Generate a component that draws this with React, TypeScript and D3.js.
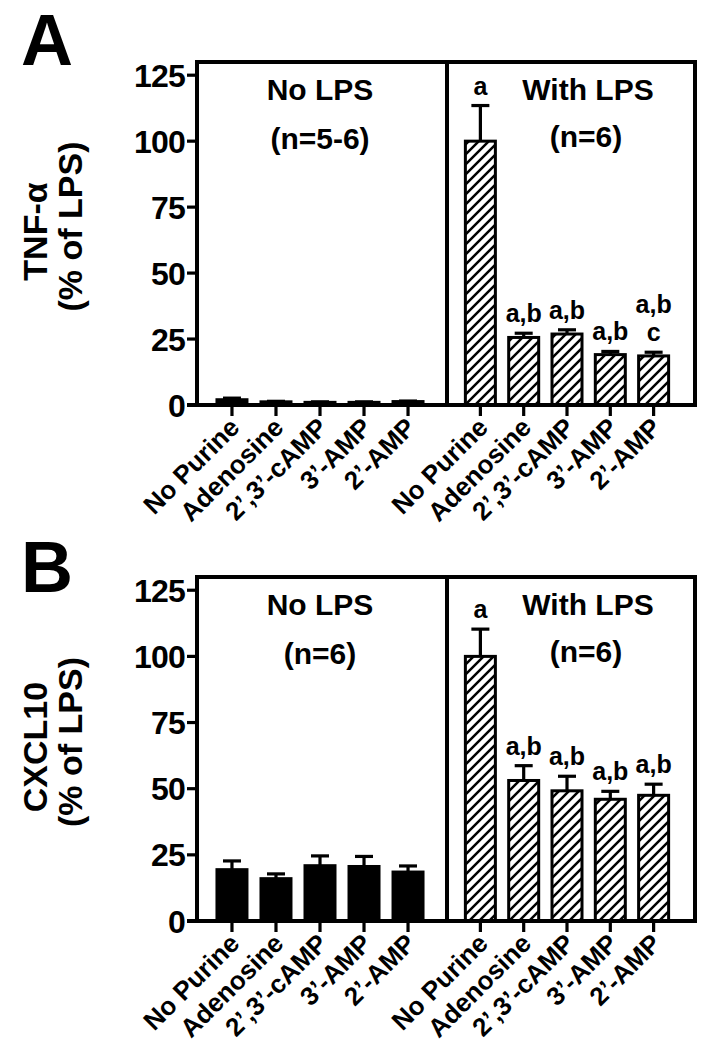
import React from "react";
import * as d3 from "d3";

const categories = ["No Purine", "Adenosine", "2\u2019,3\u2019-cAMP", "3\u2019-AMP", "2\u2019-AMP"];
const yTicks = [0, 25, 50, 75, 100, 125];

const tnfNoLps = [2.0, 1.2, 1.0, 1.0, 1.3];
const tnfNoLpsErr = [0.6, 0.2, 0.2, 0.2, 0.2];
const tnfLps = [100, 25.6, 26.9, 19.1, 18.6];
const tnfLpsErr = [13.5, 1.6, 1.6, 1.2, 1.4];
const tnfLetters = [["a"], ["a,b"], ["a,b"], ["a,b"], ["a,b", "c"]];

const cxclNoLps = [19.4, 16.0, 20.9, 20.6, 18.5];
const cxclNoLpsErr = [3.3, 1.8, 3.7, 3.8, 2.3];
const cxclLps = [100, 53.1, 49.2, 46.0, 47.5];
const cxclLpsErr = [10.3, 5.6, 5.5, 3.0, 4.2];
const cxclLetters = [["a"], ["a,b"], ["a,b"], ["a,b"], ["a,b"]];

const FONT = "'Liberation Sans', Arial, Helvetica, sans-serif";

type PanelProps = {
  letter: string;
  letterY: number;
  title1: string;
  title2: string;
  top: number;
  axisY: number;
  noLps: number[];
  noLpsErr: number[];
  lps: number[];
  lpsErr: number[];
  letters: string[][];
  nLeft: string;
  nRight: string;
  pid: string;
};

function Panel(p: PanelProps) {
  const axisX = 197;
  const divX = 447;
  const rightX = 695;
  const y = d3.scaleLinear().domain([0, 130]).range([p.axisY, p.top]);
  const xL = d3.scalePoint<string>().domain(categories).range([195, 445]).padding(0.84);
  const xR = d3.scalePoint<string>().domain(categories).range([444, 690]).padding(0.84);
  const bw = 30;
  const capW = 18;
  const sw = 3.2;

  const bars = (
    xs: d3.ScalePoint<string>,
    vals: number[],
    errs: number[],
    fill: string,
    letters: string[][] | null
  ) =>
    categories.map((c, i) => {
      const cx = xs(c) as number;
      const top = y(vals[i]);
      const capY = y(vals[i] + errs[i]);
      return (
        <g key={c}>
          <line x1={cx} x2={cx} y1={top} y2={capY} stroke="#000" strokeWidth={sw} />
          <line x1={cx - capW / 2} x2={cx + capW / 2} y1={capY} y2={capY} stroke="#000" strokeWidth={sw} />
          <rect
            x={cx - bw / 2}
            y={top}
            width={bw}
            height={p.axisY - top}
            fill={fill}
            stroke="#000"
            strokeWidth={3}
          />
          {letters &&
            letters[i].map((t, j) => (
              <text
                key={j}
                x={cx}
                y={capY - 11 - (letters[i].length - 1 - j) * 28}
                textAnchor="middle"
                fontSize={25}
                fontWeight="bold"
                fontFamily={FONT}
              >
                {t}
              </text>
            ))}
        </g>
      );
    });

  const midY = (p.top + p.axisY) / 2;

  return (
    <g>
      <defs>
        <pattern id={"hatch" + p.pid} patternUnits="userSpaceOnUse" width={10} height={10}>
          <rect width={10} height={10} fill="#fff" />
          <path d="M-2,12 L12,-2 M-7,7 L7,-7 M3,17 L17,3" stroke="#000" strokeWidth={2.5} />
        </pattern>
      </defs>
      <text x={21} y={p.letterY} fontSize={72} fontWeight="bold" fontFamily={FONT}>
        {p.letter}
      </text>
      {/* y title */}
      <text
        transform={`translate(47,${midY - 2}) rotate(-90)`}
        textAnchor="middle"
        fontSize={34}
        fontWeight="bold"
        fontFamily={FONT}
      >
        {p.title1}
      </text>
      <text
        transform={`translate(82,${midY - 7}) rotate(-90)`}
        textAnchor="middle"
        fontSize={34}
        fontWeight="bold"
        fontFamily={FONT}
      >
        {p.title2}
      </text>
      {/* y ticks */}
      {yTicks.map((t) => (
        <g key={t}>
          <line x1={axisX - 10} x2={axisX} y1={y(t)} y2={y(t)} stroke="#000" strokeWidth={sw} />
          <text
            x={axisX - 12}
            y={y(t) + 11.5}
            textAnchor="end"
            fontSize={32}
            fontWeight="bold"
            fontFamily={FONT}
            letterSpacing={-0.8}
          >
            {t}
          </text>
        </g>
      ))}
      {bars(xL, p.noLps, p.noLpsErr, "#000", null)}
      {bars(xR, p.lps, p.lpsErr, `url(#hatch${p.pid})`, p.letters)}
      {/* frame */}
      <rect
        x={axisX}
        y={p.top}
        width={rightX - axisX}
        height={p.axisY - p.top}
        fill="none"
        stroke="#000"
        strokeWidth={4}
      />
      <line x1={divX} x2={divX} y1={p.top} y2={p.axisY} stroke="#000" strokeWidth={4} />
      <line x1={axisX - 10} x2={rightX + 2} y1={p.axisY} y2={p.axisY} stroke="#000" strokeWidth={4} />
      {/* group labels */}
      <text x={320} y={p.top + 38} textAnchor="middle" fontSize={30} fontWeight="bold" fontFamily={FONT}>
        No LPS
      </text>
      <text x={320} y={p.top + 87} textAnchor="middle" fontSize={30} fontWeight="bold" fontFamily={FONT}>
        {p.nLeft}
      </text>
      <text x={588} y={p.top + 38} textAnchor="middle" fontSize={30} fontWeight="bold" fontFamily={FONT}>
        With LPS
      </text>
      <text x={586} y={p.top + 85} textAnchor="middle" fontSize={30} fontWeight="bold" fontFamily={FONT}>
        {p.nRight}
      </text>
      {/* x ticks and labels */}
      {[xL, xR].map((xs, k) =>
        categories.map((c) => {
          const cx = xs(c) as number;
          return (
            <g key={k + c}>
              <line x1={cx} x2={cx} y1={p.axisY} y2={p.axisY + 11} stroke="#000" strokeWidth={sw} />
              <text
                transform={`translate(${cx + 9},${p.axisY + 24}) rotate(-45)`}
                textAnchor="end"
                fontSize={26}
                fontWeight="bold"
                fontFamily={FONT}
              >
                {c}
              </text>
            </g>
          );
        })
      )}
    </g>
  );
}

export default function App() {
  return (
    <svg
      width={701}
      height={1050}
      style={{ position: "absolute", left: 0, top: 0, background: "#fff" }}
    >
      <rect width={701} height={1050} fill="#fff" />
      <Panel
        pid="A"
        letter="A"
        letterY={65}
        title1="TNF-α"
        title2="(% of LPS)"
        top={62}
        axisY={405}
        noLps={tnfNoLps}
        noLpsErr={tnfNoLpsErr}
        lps={tnfLps}
        lpsErr={tnfLpsErr}
        letters={tnfLetters}
        nLeft="(n=5-6)"
        nRight="(n=6)"
      />
      <Panel
        pid="B"
        letter="B"
        letterY={592}
        title1="CXCL10"
        title2="(% of LPS)"
        top={577}
        axisY={921}
        noLps={cxclNoLps}
        noLpsErr={cxclNoLpsErr}
        lps={cxclLps}
        lpsErr={cxclLpsErr}
        letters={cxclLetters}
        nLeft="(n=6)"
        nRight="(n=6)"
      />
    </svg>
  );
}
